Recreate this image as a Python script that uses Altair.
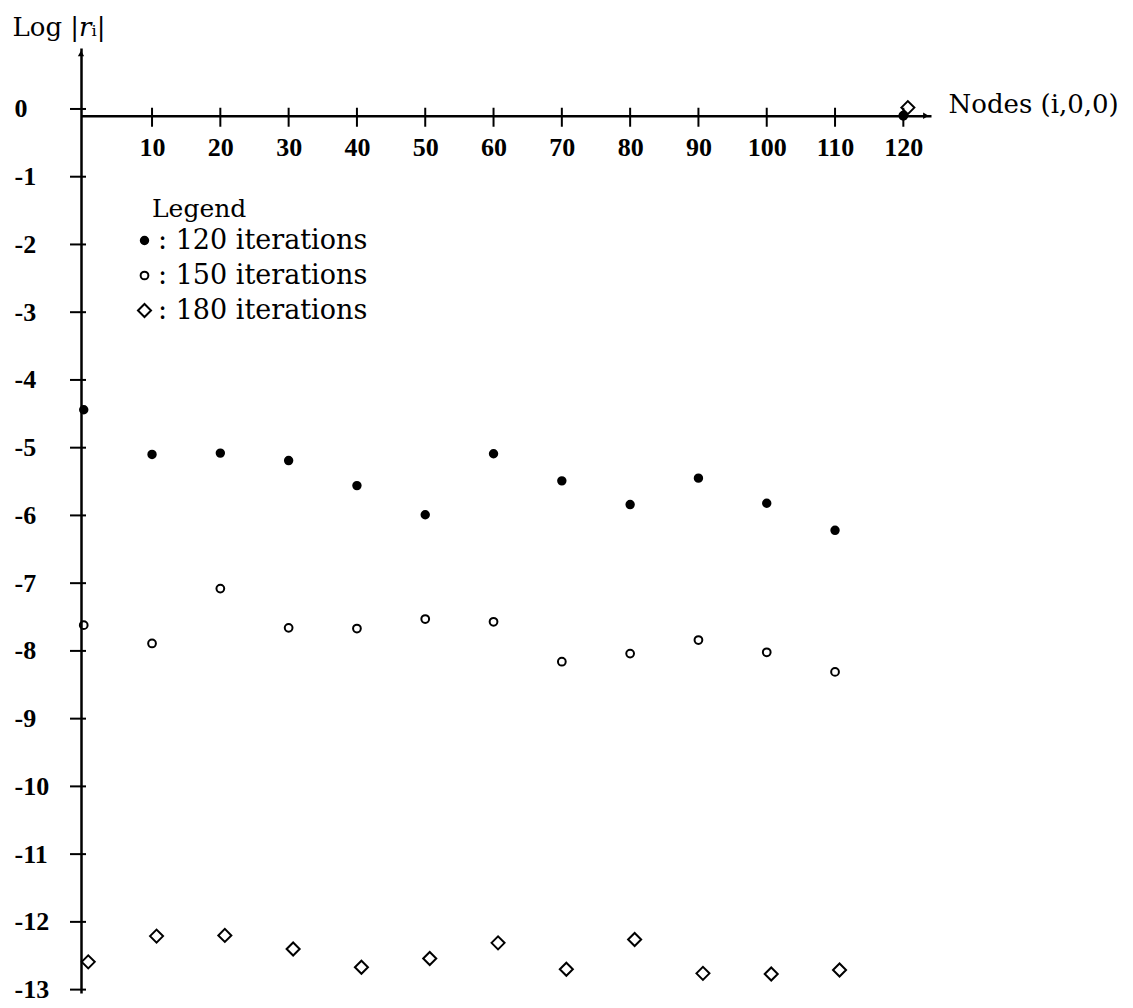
import altair as alt
import pandas as pd

# ---- data ----
nodes = [0, 10, 20, 30, 40, 50, 60, 70, 80, 90, 100, 110, 120]
iter120 = [-4.44, -5.10, -5.08, -5.19, -5.56, -5.99, -5.09, -5.49, -5.84, -5.45, -5.82, -6.22, -0.10]
iter150 = [-7.62, -7.89, -7.08, -7.66, -7.67, -7.53, -7.57, -8.16, -8.04, -7.84, -8.02, -8.31, -0.10]
iter180 = [-12.59, -12.21, -12.20, -12.40, -12.67, -12.54, -12.31, -12.70, -12.26, -12.76, -12.77, -12.71, 0.02]
series_names = ["120 iterations", "150 iterations", "180 iterations"]
legend_title = ["Legend"]
x_ticks = [10, 20, 30, 40, 50, 60, 70, 80, 90, 100, 110, 120]
y_ticks = [0, -1, -2, -3, -4, -5, -6, -7, -8, -9, -10, -11, -12, -13]

rows = []
for name, vals in zip(series_names, [iter120, iter150, iter180]):
    for n, v in zip(nodes, vals):
        rows.append({"node": n, "value": v, "series": name})
df = pd.DataFrame(rows)
df_circ = df[df.series != series_names[2]]
df_diam = df[df.series == series_names[2]]

XDOM = [-0.4, 124.05]
YDOM = [-13.05, 0.9]
AXIS_Y = -0.1  # the horizontal axis is drawn slightly below 0
W, H = 850, 945
AXIS_PIX = (YDOM[1] - AXIS_Y) / (YDOM[1] - YDOM[0]) * H

TEXT_FONT = "DejaVu Serif"
NUM_FONT = "Liberation Serif"

legend = alt.Legend(
    title=None, orient="none", legendX=50, legendY=179,
    labelExpr="': ' + datum.label", labelLimit=0,
    labelFont=TEXT_FONT, labelFontSize=27, labelColor="black", labelOffset=0,
    rowPadding=7, symbolStrokeColor="black", symbolStrokeWidth=2,
)

shape_scale = alt.Scale(domain=series_names, range=["circle", "circle", "diamond"])
fill_scale = alt.Scale(domain=series_names, range=["black", "transparent", "transparent"])
stroke_scale = alt.Scale(domain=series_names, range=["black", "black", "black"])
size_scale = alt.Scale(type="ordinal", domain=series_names, range=[55, 60, 170])

x_enc = alt.X(
    "node:Q",
    scale=alt.Scale(domain=XDOM, nice=False, zero=False),
    axis=alt.Axis(
        values=x_ticks, orient="bottom", offset=round(AXIS_PIX - H, 2), ticks=False, grid=False,
        domainColor="black", domainWidth=2.5,
        labelFont=NUM_FONT, labelFontWeight="bold", labelFontSize=26, labelColor="black",
        labelPadding=19, labelFlush=False, labelOverlap=False,
        title="Nodes (i,0,0)", titleFont=TEXT_FONT, titleFontSize=26, titleFontWeight="normal",
        titleColor="black", titleX=867, titleY=-3, titleAlign="left", titleBaseline="alphabetic",
        titleAngle=0,
    ),
)
y_enc = alt.Y(
    "value:Q",
    scale=alt.Scale(domain=YDOM, nice=False, zero=False),
    axis=alt.Axis(
        values=y_ticks, ticks=False, grid=False,
        domainColor="black", domainWidth=2.5,
        labelFont=NUM_FONT, labelFontWeight="bold", labelFontSize=26, labelColor="black",
        labelAlign="left", labelBaseline="middle", labelPadding=67,
        labelFlush=False, labelOverlap=False,
        labelExpr="'' + datum.value",
        title="Log |𝑟ᵢ|", titleFont=TEXT_FONT, titleFontSize=26, titleFontWeight="normal",
        titleColor="black", titleAngle=0, titleX=-69, titleY=-13,
        titleAlign="left", titleBaseline="alphabetic",
    ),
)

common = dict(
    shape=alt.Shape("series:N", scale=shape_scale, legend=legend),
    fill=alt.Fill("series:N", scale=fill_scale, legend=legend),
    stroke=alt.Stroke("series:N", scale=stroke_scale, legend=legend),
    size=alt.Size("series:N", scale=size_scale, legend=legend),
)

circles = alt.Chart(df_circ).mark_point(
    strokeWidth=2, opacity=1
).encode(x=x_enc, y=y_enc, **common)

diamonds = alt.Chart(df_diam).mark_point(
    strokeWidth=2, opacity=1, xOffset=4.5
).encode(x="node:Q", y="value:Q", **common)

xt = alt.Chart(pd.DataFrame({"t": x_ticks})).mark_tick(
    orient="vertical", size=19, thickness=2, color="black", yOffset=1.5, opacity=1
).encode(x="t:Q", y=alt.datum(AXIS_Y))

yt = alt.Chart(pd.DataFrame({"t": y_ticks})).mark_tick(
    orient="horizontal", size=16, thickness=2, color="black", xOffset=-3, opacity=1
).encode(y="t:Q", x=alt.datum(XDOM[0]))

arrow_x = alt.Chart(pd.DataFrame({"a": [0]})).mark_point(
    shape="triangle-right", filled=True, size=40, color="black", opacity=1
).encode(x=alt.datum(123.3), y=alt.datum(AXIS_Y))

arrow_y = alt.Chart(pd.DataFrame({"a": [0]})).mark_point(
    shape="triangle-up", filled=True, size=40, color="black", opacity=1
).encode(x=alt.datum(XDOM[0]), y=alt.datum(0.82))

legend_head = alt.Chart(pd.DataFrame({"t": legend_title})).mark_text(
    align="left", baseline="alphabetic", font=TEXT_FONT, fontSize=25, color="black"
).encode(x=alt.value(71), y=alt.value(169), text="t:N")

chart = alt.layer(xt, yt, arrow_x, arrow_y, legend_head, circles, diamonds).properties(
    width=W, height=H,
    autosize=alt.AutoSizeParams(type="none"),
    padding={"left": 73, "top": 40, "right": 190, "bottom": 14},
    background="white",
).configure_view(stroke=None)

chart.save("out.html", embed_options={"renderer": "svg", "actions": False})
